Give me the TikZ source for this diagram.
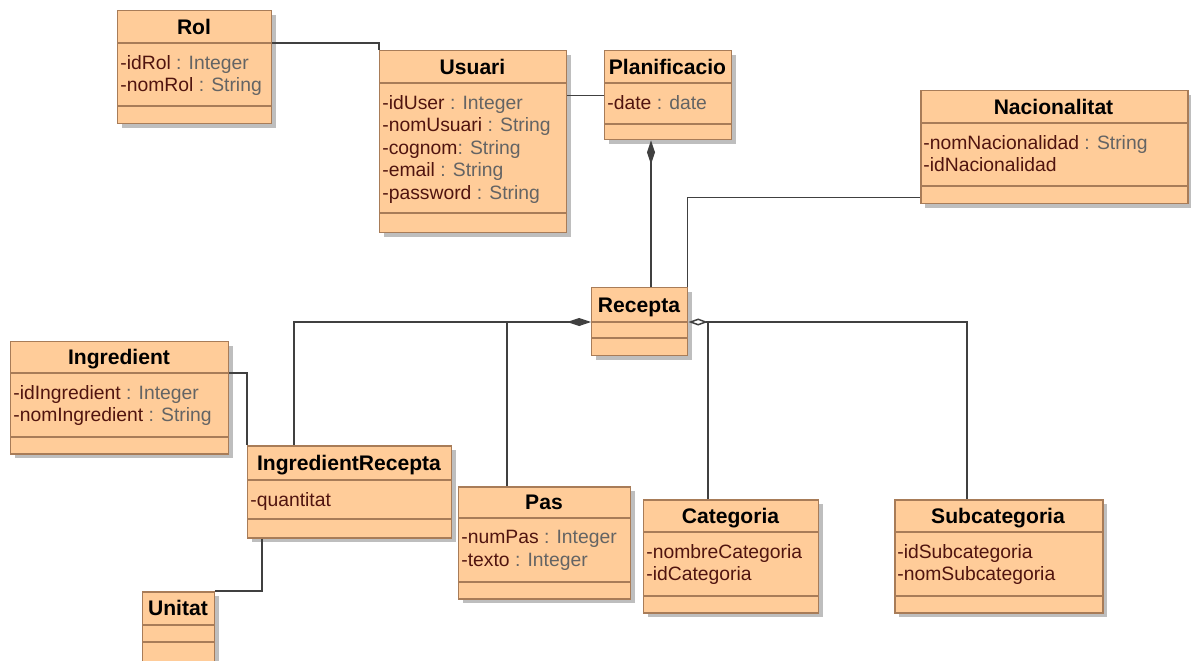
\documentclass[tikz,border=0pt]{standalone}
\usepackage{fontspec}
\setmainfont{Liberation Sans}
\usetikzlibrary{arrows.meta}

\definecolor{classfill}{RGB}{255,204,153}
\definecolor{classdraw}{RGB}{168,124,88}
\definecolor{shadowgray}{RGB}{190,190,190}
\definecolor{linkgray}{RGB}{64,64,64}
\definecolor{attrcol}{RGB}{80,20,15}
\definecolor{typecol}{RGB}{100,100,100}

\newcommand{\typ}[1]{\textcolor{typecol}{#1}}
% class box: name, left, top, right, title line, attr line, bottom, title, attributes
\newcommand{\umlclass}[9]{%
  \fill[shadowgray] (#2+5,#3+5) rectangle (#4+5,#7+5);
  \node[class box,minimum width={(#4-#2)*0.02cm},minimum height={(#7-#3)*0.02cm}] (#1) at (#2,#3) {};
  \draw[class line] (#2,#5) -- (#4,#5);
  \draw[class line] (#2,#6) -- (#4,#6);
  \node[class title] at ({(#2+#4)/2},{(#3+#5)/2+2.5}) {#8};
  \node[class attr] at (#2+3,#5+12) {#9};
}

\begin{document}
\begin{tikzpicture}[x=0.02cm,y=-0.02cm,
    class box/.style={rectangle,draw=classdraw,fill=classfill,line width=0.85pt,anchor=north west,inner sep=0pt},
    class line/.style={draw=classdraw,line width=0.85pt},
    class title/.style={font=\bfseries\fontsize{12}{14}\selectfont,text height=8.6pt,text depth=2.4pt,inner sep=0pt},
    class attr/.style={anchor=north west,align=left,inner sep=0pt,text=attrcol,font=\fontsize{11}{12.8}\selectfont},
    assoc/.style={draw=linkgray,line width=0.85pt},
    composition/.style={assoc,arrows={Diamond[length=13.5pt,width=4.6pt]-}},
    aggregation/.style={assoc,arrows={Diamond[open,length=11pt,width=4pt,fill=white]-}}]
  \useasboundingbox (0,0) rectangle (1191,660);

  % classes
  \umlclass{rol}{117}{10}{271}{43}{106}{123}{Rol}{-idRol \typ{: Integer}\\-nomRol \typ{: String}}
  \umlclass{usuari}{379}{50}{566}{83}{213}{232}{Usuari}{-idUser \typ{: Integer}\\-nomUsuari \typ{: String}\\-cognom\typ{: String}\\-email \typ{: String}\\-password \typ{: String}}
  \umlclass{planif}{604}{50}{731}{83}{124}{139}{Planificacio}{-date \typ{: date}}
  \umlclass{nacio}{920}{90}{1187}{123}{186}{203}{Nacionalitat}{-nomNacionalidad \typ{: String}\\-idNacionalidad}
  \umlclass{recepta}{591}{287}{687}{322}{338}{355}{Recepta}{}
  \umlclass{ingred}{10}{341}{228}{373}{437}{453}{Ingredient}{-idIngredient \typ{: Integer}\\-nomIngredient \typ{: String}}
  \umlclass{ingrec}{247}{445}{451}{480}{519}{537}{IngredientRecepta}{-quantitat}
  \umlclass{unitat}{142}{591}{214}{625}{642}{663}{Unitat}{}
  \umlclass{pas}{458}{486}{630}{518}{582}{598}{Pas}{-numPas \typ{: Integer}\\-texto \typ{: Integer}}
  \umlclass{categ}{643}{499}{818}{532}{596}{612}{Categoria}{-nombreCategoria\\-idCategoria}
  \umlclass{subcat}{894}{499}{1102}{532}{596}{612}{Subcategoria}{-idSubcategoria\\-nomSubcategoria}

  % connector ends
  \path (rol.north east) ++(0,33) coordinate (ru);
  \path (planif.south west) ++(47,0) coordinate (pl);
  \path (nacio.south west) ++(0,-7) coordinate (na);
  \path (recepta.north west) ++(0,35) coordinate (rl);
  \path (recepta.north east) ++(0,35) coordinate (rr);
  \path (ingrec.north west) ++(47,0) coordinate (irt);
  \path (pas.north west) ++(49,0) coordinate (pt);
  \path (categ.north west) ++(65,0) coordinate (ct);
  \path (subcat.north west) ++(73,0) coordinate (st);
  \path (ingred.north east) ++(0,32) coordinate (ig);
  \path (ingrec.south west) ++(15,0) coordinate (iu);

  % connectors
  \draw[assoc] (ru) -| (usuari.north west);
  \draw[assoc] (usuari.east |- planif.west) -- (planif.west);
  \draw[composition] (pl) -- (pl |- recepta.north);
  \draw[assoc] (na) -| ([xshift=-0.02cm]recepta.north east);
  \draw[composition] (rl) -| (irt);
  \draw[assoc] (pt) -- (pt |- rl);
  \draw[assoc] (ct) -- (ct |- rr);
  \draw[aggregation] (rr) -| (st);
  \draw[assoc] (ig) -| (ingrec.north west);
  \draw[assoc] (iu) |- (unitat.north east);
\end{tikzpicture}
\end{document}
